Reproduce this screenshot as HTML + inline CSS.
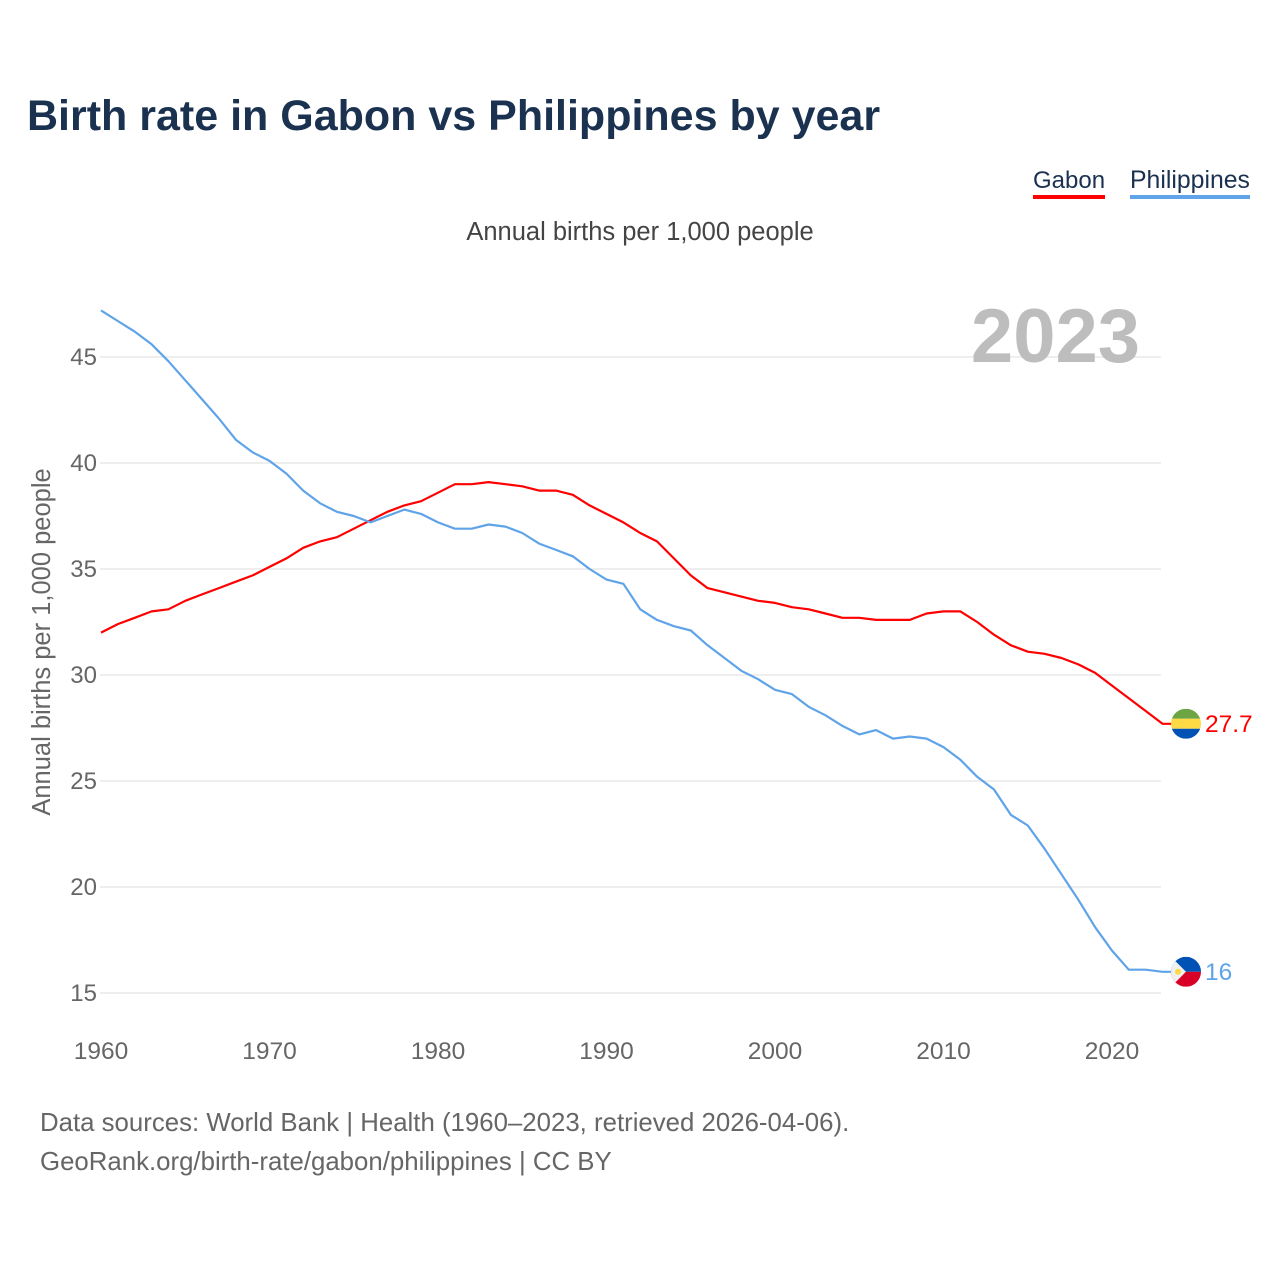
<!DOCTYPE html>
<html><head><meta charset="utf-8"><style>
body{margin:0;background:#fff;font-family:"Liberation Sans",sans-serif}
#w{position:relative;width:1280px;height:1280px;overflow:hidden}
.t{position:absolute;white-space:nowrap}
</style></head><body><div id="w">
<div class="t" style="left:27px;top:92px;font-size:43px;font-weight:bold;color:#1a3150">Birth rate in Gabon vs Philippines by year</div>
<div class="t" style="left:1033px;top:166px;font-size:24px;color:#1a3150;border-bottom:4px solid #ff0000;line-height:29px">Gabon</div>
<div class="t" style="left:1130px;top:166px;font-size:24.8px;color:#1a3150;border-bottom:4px solid #5fa3e8;line-height:29px">Philippines</div>
<div class="t" style="left:0;width:1280px;text-align:center;top:218px;font-size:25.5px;color:#444">Annual births per 1,000 people</div>
<div class="t" style="left:40px;top:1104px;font-size:25.8px;color:#666;line-height:39px">Data sources: World Bank | Health (1960–2023, retrieved 2026-04-06).<br>GeoRank.org/birth-rate/gabon/philippines | CC BY</div>
<svg id="s" width="1280" height="1280" style="position:absolute;left:0;top:0"></svg>
</div>
<script>
const years=[];for(let y=1960;y<=2023;y++)years.push(y);
const gabon=[32.0,32.4,32.7,33.0,33.1,33.5,33.8,34.1,34.4,34.7,35.1,35.5,36.0,36.3,36.5,36.9,37.3,37.7,38.0,38.2,38.6,39.0,39.0,39.1,39.0,38.9,38.7,38.7,38.5,38.0,37.6,37.2,36.7,36.3,35.5,34.7,34.1,33.9,33.7,33.5,33.4,33.2,33.1,32.9,32.7,32.7,32.6,32.6,32.6,32.9,33.0,33.0,32.5,31.9,31.4,31.1,31.0,30.8,30.5,30.1,29.5,28.9,28.3,27.7];
const philippines=[47.2,46.7,46.2,45.6,44.8,43.9,43.0,42.1,41.1,40.5,40.1,39.5,38.7,38.1,37.7,37.5,37.2,37.5,37.8,37.6,37.2,36.9,36.9,37.1,37.0,36.7,36.2,35.9,35.6,35.0,34.5,34.3,33.1,32.6,32.3,32.1,31.4,30.8,30.2,29.8,29.3,29.1,28.5,28.1,27.6,27.2,27.4,27.0,27.1,27.0,26.6,26.0,25.2,24.6,23.4,22.9,21.8,20.6,19.4,18.1,17.0,16.1,16.1,16.0];
const yTicks=[15,20,25,30,35,40,45];
const xTicks=[1960,1970,1980,1990,2000,2010,2020];
const X=v=>101+(v-1960)*(1112-101)/60;
const Y=v=>993-(v-15)*21.2;
const s=document.getElementById('s');const NS='http://www.w3.org/2000/svg';
function mk(t,a,txt){const e=document.createElementNS(NS,t);for(const k in a)e.setAttribute(k,a[k]);if(txt!==undefined)e.textContent=txt;s.appendChild(e);return e;}
yTicks.forEach(v=>{
const g=mk('line',{x1:100,x2:1161,y1:Y(v),y2:Y(v),stroke:'#e8e8e8','stroke-width':1.5});


const t=mk('text',{x:97,y:Y(v)+8,'text-anchor':'end','font-size':24,fill:'#666','font-family':'Liberation Sans'},v);


});
xTicks.forEach(v=>{
const t=mk('text',{x:X(v),y:1059,'text-anchor':'middle','font-size':24.5,fill:'#666','font-family':'Liberation Sans'},v);


});
const yt=mk('text',{x:0,y:0,transform:'translate(50,642) rotate(-90)','text-anchor':'middle','font-size':25.5,fill:'#666','font-family':'Liberation Sans'},'Annual births per 1,000 people');


const yr=mk('text',{x:1140,y:362,'text-anchor':'end','font-size':76,'font-weight':'bold',fill:'#bdbdbd','font-family':'Liberation Sans'},'2023');


function series(d,c,name){
const pts=years.map((y,i)=>X(y).toFixed(1)+','+Y(d[i]).toFixed(1));
const last=d[d.length-1];
pts.push('1172,'+Y(last).toFixed(1));
const p=mk('polyline',{points:pts.join(' '),fill:'none',stroke:c,'stroke-width':2.2,'stroke-linejoin':'round'});


const l=mk('text',{x:1205,y:Y(last)+8,'font-size':24.5,fill:c,'font-family':'Liberation Sans'},last);


return Y(last);
}
const gy=series(gabon,'#ff0000','gabon');
const py=series(philippines,'#5fa3e8','philippines');
const fx=1186,r=15;
const defs=mk('defs',{});
defs.innerHTML=`<clipPath id="c1"><circle cx="${fx}" cy="${gy}" r="${r}"/></clipPath><clipPath id="c2"><circle cx="${fx}" cy="${py}" r="${r}"/></clipPath>`;
const f1=mk('g',{'clip-path':'url(#c1)'});


f1.innerHTML=`<rect x="${fx-r}" y="${gy-r}" width="30" height="10" fill="#6da544"/><rect x="${fx-r}" y="${gy-r+10}" width="30" height="10" fill="#ffda44"/><rect x="${fx-r}" y="${gy-r+20}" width="30" height="10" fill="#0052b4"/>`;
const f2=mk('g',{'clip-path':'url(#c2)'});


f2.innerHTML=`<rect x="${fx-r}" y="${py-r}" width="30" height="15" fill="#0052b4"/><rect x="${fx-r}" y="${py}" width="30" height="15" fill="#d80027"/><polygon points="${fx-r},${py-r} ${fx},${py} ${fx-r},${py+r}" fill="#f0f0f0"/><circle cx="${fx-8}" cy="${py}" r="3" fill="#ffda44"/>`;
</script></body></html>
